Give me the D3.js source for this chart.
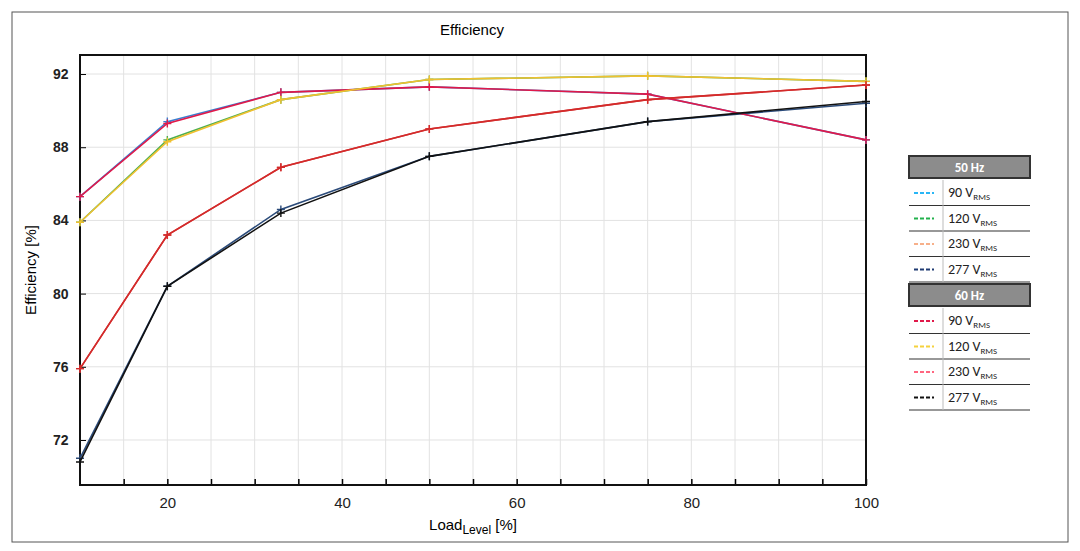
<!DOCTYPE html><html><head><meta charset="utf-8"><script src="https://cdn.jsdelivr.net/npm/d3@7"></script>
<style>body{margin:0;background:#fff;font-family:"Liberation Sans",Arial,sans-serif}</style></head><body><svg id="c" width="1080" height="551"></svg>
<script>
const loads=[10,20,33,50,75,100];
const yTicks=[72,76,80,84,88,92];
const xTicks=[20,40,60,80,100];
const legendNames=["90 V","120 V","230 V","277 V"];
const v90_50=[85.3,89.4,91.0,91.3,90.9,88.4];
const v120_50=[83.9,88.4,90.6,91.7,91.9,91.6];
const v230_50=[75.9,83.2,86.9,89.0,90.6,91.4];
const v277_50=[71.0,80.4,84.6,87.5,89.4,90.4];
const v90_60=[85.3,89.3,91.0,91.3,90.9,88.4];
const v120_60=[83.9,88.3,90.6,91.7,91.9,91.6];
const v230_60=[75.9,83.2,86.9,89.0,90.6,91.4];
const v277_60=[70.8,80.4,84.4,87.5,89.4,90.5];
const series=[
 {v:v90_50,c:"#3a7fd0",lc:"#29b6f6"},{v:v120_50,c:"#4caf50",lc:"#22b14c"},{v:v230_50,c:"#d03a3a",lc:"#f7b08a"},{v:v277_50,c:"#2b4b7a",lc:"#1f3b73"},
 {v:v90_60,c:"#e0194a",lc:"#e0194a"},{v:v120_60,c:"#f0c030",lc:"#f5d23c"},{v:v230_60,c:"#d42a2a",lc:"#ff6680"},{v:v277_60,c:"#111",lc:"#111"}];
const svg=d3.select("#c");
svg.append("rect").attr("x",12).attr("y",12).attr("width",1056).attr("height",530).attr("fill","none").attr("stroke","#555");
const L=80,R=866,T=55,B=485;
const x=d3.scaleLinear().domain([10,100]).range([L,R]);
const y=d3.scaleLinear().domain([69.54,93.04]).range([B,T]);
const g=svg.append("g");
d3.range(15,100,5).forEach(t=>g.append("line").attr("x1",x(t)).attr("x2",x(t)).attr("y1",T).attr("y2",B).attr("stroke","#e2e2e2"));
yTicks.forEach(t=>g.append("line").attr("x1",L).attr("x2",R).attr("y1",y(t)).attr("y2",y(t)).attr("stroke","#e2e2e2"));
g.append("g").attr("transform",`translate(0,${B})`).call(d3.axisBottom(x).tickValues(d3.range(15,101,5)).tickSize(-6).tickFormat(d=>xTicks.includes(d)?d:"")).call(a=>{a.select(".domain").remove();a.selectAll("text").attr("dy","1.3em").style("font-size","15px");a.selectAll("line").attr("stroke-width",1.5)});
g.append("g").attr("transform",`translate(${L},0)`).call(d3.axisLeft(y).tickValues(yTicks).tickSize(-6)).call(a=>{a.select(".domain").remove();a.selectAll("text").attr("dx","-0.6em").style("font-size","14px").style("font-weight","bold")});
g.selectAll(".tick text").attr("fill","#222");
svg.append("rect").attr("x",L).attr("y",T).attr("width",R-L).attr("height",B-T).attr("fill","none").attr("stroke","#111").attr("stroke-width",2);
const line=d3.line().x((d,i)=>x(loads[i])).y(d=>y(d));
series.forEach(s=>{
 svg.append("path").attr("d",line(s.v)).attr("fill","none").attr("stroke",s.c).attr("stroke-width",1.6);
 s.v.forEach((d,i)=>{const px=x(loads[i]),py=y(d);svg.append("path").attr("d",`M${px-4},${py}H${px+4}M${px},${py-4}V${py+4}`).attr("stroke",s.c).attr("stroke-width",1.4);});
});
svg.append("text").attr("x",472).attr("y",35).attr("text-anchor","middle").style("font-size","15px").text("Efficiency");
const xl=svg.append("text").attr("x",473).attr("y",530).attr("text-anchor","middle").style("font-size","15px");
xl.append("tspan").text("Load");xl.append("tspan").attr("dy",4).style("font-size","12px").text("Level");xl.append("tspan").attr("dy",-4).text(" [%]");
svg.append("text").attr("transform","translate(36,270) rotate(-90)").attr("text-anchor","middle").style("font-size","15px").text("Efficiency [%]");
const lg=svg.append("g").style("font-family","Carlito,Calibri,'Liberation Sans',sans-serif");
const LX=909,LW=121,RH=25.5;
let yy=156;
[["50 Hz",series.slice(0,4)],["60 Hz",series.slice(4)]].forEach(([h,ss])=>{
 lg.append("rect").attr("x",LX).attr("y",yy).attr("width",LW).attr("height",22).attr("fill","#8c8c8c").attr("stroke","#333").attr("stroke-width",2);
 lg.append("text").attr("x",LX+LW/2).attr("y",yy+16).attr("text-anchor","middle").attr("fill","#fff").style("font-size","13px").style("font-weight","bold").text(h);
 yy+=24;
 ss.forEach((s,i)=>{
  lg.append("line").attr("x1",LX).attr("x2",LX+LW).attr("y1",yy+RH).attr("y2",yy+RH).attr("stroke","#333").attr("stroke-width",1.2);
  lg.append("line").attr("x1",LX+34).attr("x2",LX+34).attr("y1",yy).attr("y2",yy+RH).attr("stroke","#bbb");
  lg.append("line").attr("x1",LX+5).attr("x2",LX+25).attr("y1",yy+13).attr("y2",yy+13).attr("stroke",s.lc).attr("stroke-width",2).attr("stroke-dasharray","4,2");
  const t=lg.append("text").attr("x",LX+39).attr("y",yy+17).style("font-size","14px").attr("fill","#222");
  t.append("tspan").text(legendNames[i]);t.append("tspan").attr("dy",3).style("font-size","9px").text("RMS");
  yy+=RH;
 });
 yy+=2;
});
</script></body></html>
